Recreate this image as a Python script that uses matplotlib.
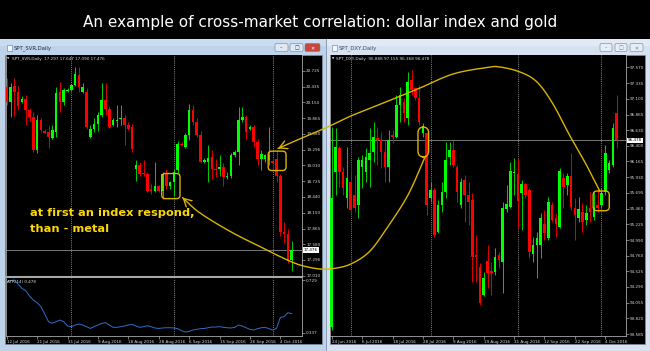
import numpy as np
import matplotlib
matplotlib.use('Agg')
import matplotlib.pyplot as plt
from matplotlib.patches import Rectangle, FancyBboxPatch

# ---------------- data ----------------
title = "An example of cross-market correlation: dollar index and gold"

svr_name = "SPT_SVR,Daily"
svr_open = [20.434, 20.160, 20.446, 20.337, 20.160, 20.222, 20.009, 19.887, 19.281, 19.827,
            19.632, 19.614, 19.505, 19.614, 20.343, 20.160, 20.364, 20.374, 20.465, 20.647,
            20.343, 20.343, 19.523, 19.676, 19.767, 19.918, 20.191, 20.040, 19.749, 19.809,
            19.855, 19.869, 19.749, 19.705, 18.948, 19.008, 18.868, 18.857, 18.583, 18.552,
            18.631, 18.552, 18.857, 18.644, 18.704, 18.917, 19.396, 19.341, 19.554, 20.009,
            19.796, 19.554, 19.068, 19.068, 19.159, 18.948, 18.948, 18.977, 18.795, 18.826,
            19.190, 19.250, 19.827, 19.887, 19.676, 19.705, 19.432, 19.130, 19.130, 19.099,
            19.081, 19.130, 18.826, 17.793, 17.764, 17.297]
svr_high = [20.592, 20.501, 20.592, 20.446, 20.264, 20.282, 20.046, 19.973, 19.918, 19.864,
            19.663, 19.736, 19.736, 20.428, 20.525, 20.410, 20.410, 20.483, 20.798, 20.798,
            20.501, 20.410, 19.736, 19.864, 19.973, 20.496, 20.496, 20.082, 19.864, 20.100,
            20.100, 19.918, 19.791, 19.754, 19.099, 19.068, 19.099, 18.898, 18.674, 19.068,
            18.662, 18.886, 18.948, 18.735, 18.948, 19.445, 19.427, 19.590, 20.131, 20.100,
            19.864, 19.627, 19.135, 19.372, 19.281, 19.130, 19.190, 19.044, 18.886, 19.226,
            19.281, 20.069, 20.069, 19.918, 19.736, 19.736, 19.494, 19.281, 19.221, 19.705,
            19.135, 19.281, 18.862, 17.975, 17.855, 17.647]
svr_low = [20.100, 19.887, 19.900, 20.009, 20.137, 19.736, 19.809, 19.244, 19.226, 19.609,
           19.590, 19.317, 19.481, 19.523, 19.978, 20.100, 20.337, 20.355, 20.446, 20.343,
           20.319, 19.676, 19.499, 19.609, 19.627, 19.882, 19.918, 19.682, 19.718, 19.700,
           19.736, 19.372, 19.645, 19.250, 18.735, 18.826, 18.826, 18.522, 18.492, 18.522,
           18.534, 18.401, 18.583, 18.583, 18.461, 18.880, 19.354, 19.317, 19.463, 19.736,
           19.518, 19.044, 19.044, 18.704, 18.765, 18.795, 18.826, 18.644, 18.765, 18.789,
           19.153, 19.008, 19.791, 19.494, 19.645, 19.341, 19.008, 18.917, 19.068, 19.008,
           19.044, 18.704, 17.733, 17.611, 17.241, 17.090]
svr_close = [20.160, 20.434, 20.337, 20.088, 20.222, 20.009, 19.887, 19.281, 19.827, 19.645,
             19.603, 19.523, 19.645, 20.313, 20.160, 20.374, 20.383, 20.465, 20.665, 20.434,
             20.434, 19.705, 19.676, 19.767, 19.918, 20.191, 20.040, 19.705, 19.827, 19.836,
             19.869, 19.736, 19.676, 19.312, 19.008, 18.857, 18.849, 18.552, 18.552, 18.644,
             18.552, 18.857, 18.644, 18.704, 18.886, 19.403, 19.377, 19.554, 20.009, 19.796,
             19.554, 19.068, 19.099, 19.135, 18.948, 18.917, 18.977, 18.795, 18.826, 19.190,
             19.250, 19.827, 19.887, 19.614, 19.705, 19.432, 19.130, 19.221, 19.190, 19.190,
             19.057, 18.826, 17.793, 17.764, 17.278, 17.476]
svr_atr = [0.717, 0.724, 0.729, 0.699, 0.667, 0.650, 0.610, 0.580, 0.560, 0.531,
           0.476, 0.419, 0.407, 0.419, 0.431, 0.419, 0.387, 0.382, 0.394, 0.402,
           0.394, 0.382, 0.369, 0.382, 0.394, 0.407, 0.412, 0.394, 0.377, 0.377,
           0.382, 0.387, 0.394, 0.399, 0.387, 0.377, 0.382, 0.389, 0.382, 0.372,
           0.369, 0.372, 0.374, 0.374, 0.372, 0.367, 0.352, 0.342, 0.347, 0.357,
           0.362, 0.367, 0.369, 0.374, 0.379, 0.379, 0.382, 0.377, 0.374, 0.372,
           0.377, 0.394, 0.387, 0.374, 0.362, 0.357, 0.367, 0.374, 0.377, 0.367,
           0.357, 0.369, 0.451, 0.456, 0.486, 0.478]
svr_price_ticks = [20.725, 20.435, 20.150, 19.865, 19.580, 19.296, 19.010,
                   18.725, 18.440, 18.150, 17.865, 17.580, 17.296, 17.010]
svr_atr_ticks = [0.729, 0.337]
svr_date_pos = [0, 8, 16, 24, 32, 40, 48, 56, 64, 72]
svr_date_labels = ["12 Jul 2016", "21 Jul 2016", "31 Jul 2016", "9 Aug 2016", "18 Aug 2016",
                   "28 Aug 2016", "6 Sep 2016", "15 Sep 2016", "26 Sep 2016", "4 Oct 2016"]
svr_month_sep = [17, 44, 70]

dxy_name = "SPT_DXY,Daily"
dxy_open = [93.697, 96.011, 96.361, 96.011, 95.614, 95.862, 95.663, 95.514, 96.086, 96.011,
            96.186, 96.310, 96.510, 96.485, 96.310, 96.086, 96.559, 96.534, 97.007, 97.056,
            96.809, 97.380, 97.256, 97.107, 96.585, 96.585, 95.614, 95.738, 95.116, 95.514,
            95.713, 96.235, 96.335, 96.086, 95.514, 95.887, 95.663, 95.589, 94.768, 94.593,
            94.170, 94.678, 94.529, 94.518, 94.768, 94.668, 95.454, 95.489, 95.987, 95.972,
            95.689, 95.823, 95.738, 94.778, 94.917, 94.917, 95.231, 95.026, 95.514, 95.316,
            95.190, 95.913, 95.813, 95.952, 95.465, 95.316, 95.414, 95.290, 95.465, 95.339,
            95.514, 95.514, 95.713, 96.037, 96.111, 96.888]
dxy_high = [96.683, 96.664, 96.395, 96.086, 96.385, 96.037, 95.962, 96.235, 96.261, 96.361,
            96.659, 96.758, 96.683, 96.608, 96.485, 96.634, 96.634, 97.156, 97.280, 97.107,
            97.504, 97.530, 97.280, 97.306, 96.734, 96.608, 95.862, 95.764, 95.589, 95.862,
            96.459, 96.459, 96.485, 96.111, 95.913, 95.962, 95.862, 95.689, 95.066, 94.644,
            94.518, 94.917, 94.668, 94.868, 94.817, 95.563, 95.813, 96.161, 96.211, 96.211,
            95.887, 95.838, 95.764, 95.041, 95.116, 95.390, 95.440, 95.638, 95.563, 95.390,
            96.062, 95.987, 95.987, 96.286, 95.614, 95.638, 95.539, 95.514, 95.713, 95.713,
            95.764, 95.764, 96.410, 96.186, 96.734, 97.155]
dxy_low = [93.648, 95.663, 95.787, 95.663, 95.469, 95.365, 95.414, 95.316, 95.764, 95.862,
           95.787, 96.161, 96.111, 96.062, 95.862, 95.862, 96.435, 96.510, 96.758, 96.758,
           96.709, 97.156, 97.082, 96.709, 96.534, 95.365, 95.563, 95.041, 95.096, 95.414,
           95.614, 96.111, 96.086, 95.563, 95.465, 95.265, 95.216, 94.369, 94.369, 94.021,
           94.160, 94.270, 94.170, 94.469, 94.569, 94.196, 95.414, 95.465, 95.663, 95.166,
           95.141, 95.614, 94.718, 94.668, 94.420, 94.718, 94.992, 94.992, 95.265, 95.041,
           95.166, 95.465, 95.663, 95.440, 94.992, 95.265, 95.116, 95.216, 95.265, 95.290,
           95.414, 95.465, 95.663, 95.987, 96.086, 96.368]
dxy_close = [95.614, 96.385, 96.011, 95.764, 95.913, 95.440, 95.465, 96.186, 96.186, 96.235,
             96.286, 96.534, 96.485, 96.310, 96.086, 96.485, 96.534, 97.007, 97.156, 96.883,
             97.355, 97.231, 97.107, 96.758, 96.659, 95.514, 95.738, 95.066, 95.514, 95.713,
             96.186, 96.335, 96.111, 95.713, 95.862, 95.663, 95.563, 94.742, 94.733, 94.047,
             94.429, 94.494, 94.494, 94.742, 94.693, 95.465, 95.529, 96.022, 96.011, 95.578,
             95.823, 95.663, 94.817, 94.917, 95.017, 95.316, 95.092, 95.563, 95.290, 95.226,
             96.022, 95.787, 95.952, 95.489, 95.365, 95.454, 95.265, 95.390, 95.405, 95.489,
             95.465, 95.689, 96.286, 96.137, 96.659, 96.478]
dxy_price_ticks = [97.570, 97.335, 97.100, 96.865, 96.630, 96.400, 96.165, 95.930, 95.695,
                   95.460, 95.225, 94.990, 94.760, 94.525, 94.290, 94.055, 93.820, 93.585]
dxy_date_pos = [0, 8, 16, 24, 32, 40, 48, 56, 64, 72]
dxy_date_labels = ["24 Jun 2016", "6 Jul 2016", "18 Jul 2016", "28 Jul 2016", "9 Aug 2016",
                   "19 Aug 2016", "31 Aug 2016", "12 Sep 2016", "22 Sep 2016", "4 Oct 2016"]
dxy_month_sep = [5, 26, 49, 71]

# highlighted groups of candles: (first bar, last bar, low price, high price)
svr_boxes = [(40.8, 45.6, 18.407, 18.862), (68.8, 73.5, 18.917, 19.268)]
dxy_boxes = [(22.7, 25.5, 96.231, 96.679), (68.8, 73.05, 95.429, 95.723)]

note_lines = ["at first an index respond,", "than - metal"]

# ---------------- style ----------------
W, H = 650, 351
UP, DN = '#00ff00', '#ff0000'
UPW, DNW = '#00d000', '#e00000'
GRID = '#a8a8a8'
LBL = '#d8d8d8'
YEL = '#d9b400'
TXTYEL = '#ffd800'
FS = 3.0

fig = plt.figure(figsize=(6.5, 3.51), dpi=100)
fig.patch.set_facecolor('black')


def ax_rect(x0, y0, x1, y1):
    return [x0 / W, 1 - y1 / H, (x1 - x0) / W, (y1 - y0) / H]


def box(ax, x0, y0, x1, y1, **kw):
    ax.add_patch(Rectangle((x0, y0), x1 - x0, y1 - y0, **kw))


bg = fig.add_axes([0, 0, 1, 1], zorder=0)
bg.set_xlim(0, W)
bg.set_ylim(H, 0)
bg.axis('off')

# window frames
box(bg, 0, 39, 325.5, H, fc='#bed2ea', ec='none')
box(bg, 325.5, 39, W, H, fc='#d6e2f0', ec='none')
bg.plot([325.5, 325.5], [39, H], color='#7d8fa8', lw=0.6)
# title bar shading
box(bg, 0, 39, 325.5, 46, fc='#cadcf0', ec='none')
box(bg, 325.5, 39, W, 46, fc='#e0e9f4', ec='none')
# chart black areas
box(bg, 5, 55, 322, 344, fc='black', ec='#8090a8', lw=0.5)
box(bg, 330, 55, 645, 344, fc='black', ec='#8090a8', lw=0.5)

# window captions
bg.text(14, 47.8, svr_name, fontsize=3.8, color='#1c2c48', va='center', ha='left')
bg.text(339, 47.8, dxy_name, fontsize=3.8, color='#3a4a64', va='center', ha='left')
for ix in (7, 332):
    box(bg, ix, 45, ix + 5, 50.5, fc='#f4f8fc', ec='#5078b0', lw=0.4)
# window buttons
for (x0, x1, fc, gl, gc) in [(275, 288, '#dfe8f3', '\u2013', '#203050'),
                             (290, 303, '#dfe8f3', '\u25a1', '#203050'),
                             (305, 320, '#c9463d', '\u2715', 'white'),
                             (600, 612, '#e6edf5', '\u2013', '#6a7a90'),
                             (615, 627, '#e6edf5', '\u25a1', '#6a7a90'),
                             (630, 643, '#e6edf5', '\u2715', '#6a7a90')]:
    bg.add_patch(FancyBboxPatch((x0, 43.5), x1 - x0, 8, boxstyle='round,pad=0,rounding_size=1.5',
                                fc=fc, ec='#6b7f9c', lw=0.4))
    bg.text((x0 + x1) / 2, 47.6, gl, fontsize=3.5, color=gc, ha='center', va='center')

# main title
bg.text(320, 27.5, title, color='white', fontsize=11, ha='center', va='baseline',
        family=['DejaVu Sans'])


def style_axes(ax, spines=('left', 'right', 'bottom')):
    ax.set_facecolor('black')
    for s in ('left', 'right', 'top', 'bottom'):
        ax.spines[s].set_visible(s in spines)
        ax.spines[s].set_color(GRID)
        ax.spines[s].set_linewidth(0.6)
    ax.yaxis.tick_right()
    ax.tick_params(axis='both', colors=GRID, labelcolor=LBL, labelsize=FS,
                   length=2, width=0.5, pad=1)


def candles(ax, o, h, l, c):
    o, h, l, c = map(np.asarray, (o, h, l, c))
    x = np.arange(len(o))
    up = c >= o
    ax.vlines(x, l, h, colors=np.where(up, UPW, DNW), lw=0.7, zorder=2)
    lo = np.minimum(o, c)
    ht = np.maximum(np.abs(c - o), (ax.get_ylim()[1] - ax.get_ylim()[0]) * 0.005)
    ax.bar(x, ht, bottom=lo, width=0.7, color=np.where(up, UP, DN), lw=0, zorder=3)


def price_box(ax, value, fmt='%.3f'):
    ax.text(1.006, value, fmt % value, transform=ax.get_yaxis_transform(), fontsize=FS,
            color='black', ha='left', va='center',
            bbox=dict(boxstyle='square,pad=0.18', fc='white', ec='none'), zorder=6,
            clip_on=False)
    ax.axhline(value, color='#8a8a8a', lw=0.6, zorder=1)


# ---------- left chart: silver ----------
n_svr = len(svr_close)
ax1 = fig.add_axes(ax_rect(5.5, 55, 302, 277), zorder=1)
ax2 = fig.add_axes(ax_rect(5.5, 278, 302, 336), zorder=1)
for ax in (ax1, ax2):
    ax.set_xlim(-0.32, 77.7)
ax1.set_ylim(16.986, 21.011)
ax2.set_ylim(0.3125, 0.744)
style_axes(ax1, ('left', 'right', 'bottom'))
style_axes(ax2, ('left', 'right', 'bottom'))
ax1.spines['bottom'].set_linewidth(1.5)
ax1.set_xticks([])
ax1.set_yticks(svr_price_ticks)
ax1.set_yticklabels(['%.3f' % v for v in svr_price_ticks])
candles(ax1, svr_open, svr_high, svr_low, svr_close)
price_box(ax1, svr_close[-1])
for m in svr_month_sep:
    for ax in (ax1, ax2):
        ax.axvline(m, color='#b0b0b0', lw=0.55, ls=(0, (1.2, 1.6)), zorder=1)
ax2.plot(np.arange(n_svr), svr_atr, color='#2f6fc8', lw=0.7, zorder=3)
ax2.set_yticks(svr_atr_ticks)
ax2.set_yticklabels(['%.3f' % v for v in svr_atr_ticks])
ax2.set_xticks(svr_date_pos)
ax2.set_xticklabels(svr_date_labels, ha='left')
ax2.text(0.006, 0.93, 'ATR(14) %.3f' % svr_atr[-1], transform=ax2.transAxes, fontsize=FS,
         color=LBL, ha='left', va='center')
ax1.text(0.005, 0.982, '\u25bc', transform=ax1.transAxes, fontsize=2.2, color=LBL,
         ha='left', va='center')
ax1.text(0.022, 0.982, '%s  %.3f %.3f %.3f %.3f' % (svr_name, svr_open[-1], svr_high[-1],
                                                    svr_low[-1], svr_close[-1]),
         transform=ax1.transAxes, fontsize=FS, color=LBL, ha='left', va='center')

# ---------- right chart: dollar index ----------
n_dxy = len(dxy_close)
ax3 = fig.add_axes(ax_rect(330.5, 55, 626, 336), zorder=1)
ax3.set_xlim(-0.32, 77.45)
ax3.set_ylim(93.558, 97.754)
style_axes(ax3)
ax3.set_yticks(dxy_price_ticks)
ax3.set_yticklabels(['%.3f' % v for v in dxy_price_ticks])
ax3.set_xticks(dxy_date_pos)
ax3.set_xticklabels(dxy_date_labels, ha='left')
candles(ax3, dxy_open, dxy_high, dxy_low, dxy_close)
price_box(ax3, dxy_close[-1])
for m in dxy_month_sep:
    ax3.axvline(m, color='#b0b0b0', lw=0.55, ls=(0, (1.2, 1.6)), zorder=1)
ax3.text(0.004, 0.986, '\u25bc', transform=ax3.transAxes, fontsize=2.2, color=LBL,
         ha='left', va='center')
ax3.text(0.02, 0.986, '%s  %.3f %.3f %.3f %.3f' % (dxy_name, dxy_open[-1], dxy_high[-1],
                                                   dxy_low[-1], dxy_close[-1]),
         transform=ax3.transAxes, fontsize=FS, color=LBL, ha='left', va='center')

# ---------- annotation overlay ----------
fg = fig.add_axes([0, 0, 1, 1], zorder=10)
fg.set_xlim(0, W)
fg.set_ylim(H, 0)
fg.axis('off')
fg.patch.set_alpha(0)


def to_fg(ax, x, y):
    d = ax.transData.transform((x, y))
    return fg.transData.inverted().transform(d)


def highlight(ax, b, r):
    x0, y0 = to_fg(ax, b[0], b[3])
    x1, y1 = to_fg(ax, b[1], b[2])
    fg.add_patch(FancyBboxPatch((x0, y0), x1 - x0, y1 - y0,
                                boxstyle='round,pad=0,rounding_size=%g' % r,
                                fc='none', ec=YEL, lw=1.0))


highlight(ax1, svr_boxes[0], 3.5)
highlight(ax1, svr_boxes[1], 3.5)
highlight(ax3, dxy_boxes[0], 6)
highlight(ax3, dxy_boxes[1], 4)


def smooth(pts, n=16):
    P = np.asarray(pts, float)
    P = np.vstack([P[0], P, P[-1]])
    out = []
    t = np.linspace(0, 1, n, endpoint=False)[:, None]
    for i in range(1, len(P) - 2):
        p0, p1, p2, p3 = P[i - 1], P[i], P[i + 1], P[i + 2]
        out.append(0.5 * (2 * p1 + (-p0 + p2) * t + (2 * p0 - 5 * p1 + 4 * p2 - p3) * t ** 2
                          + (-p0 + 3 * p1 - 3 * p2 + p3) * t ** 3))
    out.append(P[-2][None])
    return np.vstack(out)


arc_top = [(600, 191.5), (587, 166), (570, 136), (553, 104), (537, 82), (520, 72),
           (500, 67), (487, 67.5), (453, 74), (420, 88), (387, 101.5), (353, 115),
           (330, 126), (303, 137.5), (278, 148.5)]
arc_low = [(425, 157), (408, 195), (387, 228), (370, 251), (353, 263), (337, 268),
           (320, 269), (300, 265), (283, 258), (267, 250), (233, 233), (200, 213),
           (182.5, 197.5)]
for arc in (arc_top, arc_low):
    s = smooth(arc)
    fg.plot(s[:, 0], s[:, 1], color=YEL, lw=1.0, solid_capstyle='round')
    fg.annotate('', xy=s[-1], xytext=s[-4],
                arrowprops=dict(arrowstyle='->,head_length=0.55,head_width=0.3',
                                color=YEL, lw=1.0, shrinkA=0, shrinkB=0))

fg.text(30, 216, note_lines[0], color=TXTYEL, fontsize=8.2, fontweight='bold', va='baseline')
fg.text(30, 232.5, note_lines[1], color=TXTYEL, fontsize=8.2, fontweight='bold', va='baseline')

fig.savefig('out.png', dpi=100, facecolor='black')
